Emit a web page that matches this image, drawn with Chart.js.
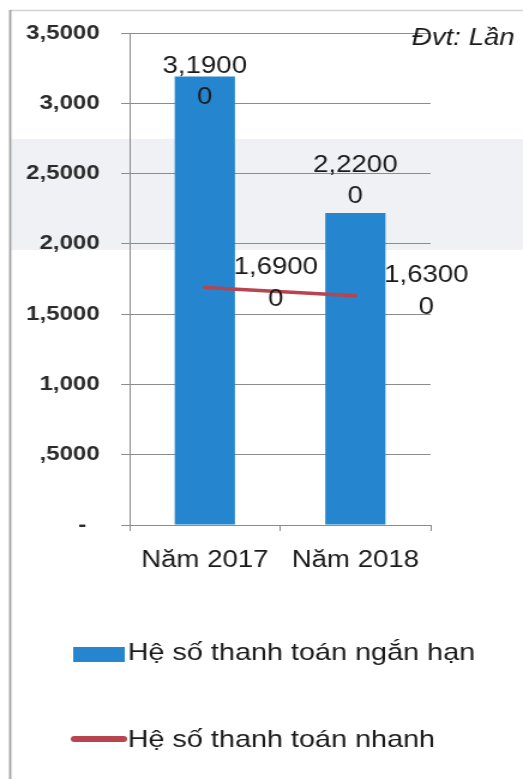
<!DOCTYPE html>
<html>
<head>
<meta charset="utf-8">
<script src="https://cdn.jsdelivr.net/npm/chart.js@4.4.1/dist/chart.umd.min.js"></script>
<style>
  html, body { margin: 0; padding: 0; background: #ffffff; overflow: hidden; }
  #wrap {
    position: absolute; left: 0; top: 0;
    width: 436px; height: 779px;
    transform: scaleX(1.1995);
    transform-origin: 0 0;
  }
</style>
</head>
<body>
<div id="wrap"><canvas id="c"></canvas></div>
<script>
// Chart data
const categories = ['Năm 2017', 'Năm 2018'];
const seriesNames = ['Hệ số thanh toán ngắn hạn', 'Hệ số thanh toán nhanh'];
const shortTermRatio = [3.19, 2.22];
const quickRatio = [1.69, 1.63];
const yTickLabels = ['-  ', ',5000', '1,000', '1,5000', '2,000', '2,5000', '3,000', '3,5000'];
const unitLabel = 'Đvt: Lần';

const TEXT = '#1a1a1a';
const GRID = '#8c8c8c';
const BAR_COLOR = '#2586cf';
const LINE_COLOR = '#b8444f';
const FONT = '"Liberation Sans", Arial, sans-serif';

// value label text like "3,1900" / "0"
function labelLines(v) {
  const s = v.toFixed(5).replace('.', ',');
  return [s.slice(0, 6), s.slice(6)];
}

const decorations = {
  id: 'decorations',
  beforeDraw(chart) {
    const { ctx, width, height } = chart;
    ctx.save();
    ctx.fillStyle = '#ffffff';
    ctx.fillRect(0, 0, width, height);
    // faint grey band behind the upper plot
    ctx.fillStyle = '#eff1f4';
    ctx.fillRect(8, 139, width, 111);
    // frame
    ctx.strokeStyle = '#d2d2d2';
    ctx.lineWidth = 1.5;
    ctx.beginPath();
    ctx.moveTo(8.5, 10.5);
    ctx.lineTo(width, 10.5);
    ctx.stroke();
    ctx.strokeStyle = '#a0a0a0';
    ctx.lineWidth = 1.8;
    ctx.beginPath();
    ctx.moveTo(8.5, 10);
    ctx.lineTo(8.5, height);
    ctx.stroke();
    ctx.restore();
  },
  afterDatasetsDraw(chart) {
    const { ctx, chartArea } = chart;
    ctx.save();
    ctx.fillStyle = TEXT;
    ctx.font = '23px ' + FONT;
    ctx.textAlign = 'center';
    ctx.textBaseline = 'middle';

    // bar value labels above each bar, kept inside the plot top
    const barMeta = chart.getDatasetMeta(0);
    barMeta.data.forEach((el, i) => {
      const lines = labelLines(chart.data.datasets[0].data[i]);
      let first = el.y - 47;
      const minFirst = chartArea.top + 34;
      if (first < minFirst) first = minFirst;
      ctx.fillText(lines[0], el.x, first);
      ctx.fillText(lines[1], el.x, first + 31);
    });

    // line value labels to the right of each point
    const lineMeta = chart.getDatasetMeta(1);
    lineMeta.data.forEach((el, i) => {
      const lines = labelLines(chart.data.datasets[1].data[i]);
      const w = ctx.measureText(lines[0]).width;
      const cx = el.x + 24 + w / 2;
      ctx.fillText(lines[0], cx, el.y - 20);
      ctx.fillText(lines[1], cx, el.y + 12);
    });

    // unit note at top right
    ctx.font = 'italic 23px ' + FONT;
    ctx.textAlign = 'right';
    ctx.textBaseline = 'alphabetic';
    ctx.fillText(unitLabel, 429, 45);
    ctx.restore();
  },
  afterDraw(chart) {
    // stacked legend below the axis
    const { ctx } = chart;
    const ds = chart.data.datasets;
    ctx.save();
    ctx.font = '24px ' + FONT;
    ctx.fillStyle = TEXT;
    ctx.textAlign = 'left';
    ctx.textBaseline = 'middle';

    ctx.fillStyle = ds[0].backgroundColor;
    ctx.fillRect(61, 647, 43, 15);
    ctx.fillStyle = TEXT;
    ctx.fillText(ds[0].label, 106.5, 653);

    ctx.strokeStyle = ds[1].borderColor;
    ctx.lineWidth = 6;
    ctx.lineCap = 'round';
    ctx.beginPath();
    ctx.moveTo(62, 739);
    ctx.lineTo(103, 739);
    ctx.stroke();
    ctx.fillText(ds[1].label, 106.5, 740);
    ctx.restore();
  }
};

new Chart(document.getElementById('c'), {
  data: {
    labels: categories,
    datasets: [
      {
        type: 'bar',
        label: seriesNames[0],
        data: shortTermRatio,
        backgroundColor: BAR_COLOR,
        borderWidth: 0,
        barPercentage: 0.4,
        categoryPercentage: 1.0,
        order: 1
      },
      {
        type: 'line',
        label: seriesNames[1],
        data: quickRatio,
        borderColor: LINE_COLOR,
        backgroundColor: LINE_COLOR,
        borderWidth: 3.5,
        borderCapStyle: 'round',
        pointRadius: 0,
        tension: 0,
        order: 0
      }
    ]
  },
  options: {
    responsive: true,
    maintainAspectRatio: false,
    animation: false,
    layout: { padding: { top: 33, right: 77, left: 0, bottom: 0 } },
    plugins: {
      legend: { display: false },
      tooltip: { enabled: false }
    },
    scales: {
      x: {
        offset: true,
        grid: { offset: true, drawOnChartArea: false, drawTicks: true, tickLength: 6, color: GRID },
        border: { color: GRID, width: 1 },
        ticks: { color: TEXT, font: { family: FONT, size: 23 }, padding: 16, maxRotation: 0 },
        afterFit(s) { s.height = 254; }
      },
      y: {
        min: 0,
        max: 3.5,
        grid: { color: GRID, tickLength: 7 },
        border: { color: GRID, width: 1 },
        ticks: {
          stepSize: 0.5,
          color: '#2b2b2b',
          font: { family: FONT, size: 20, weight: 'bold' },
          padding: 18,
          callback: (v, i) => yTickLabels[i]
        },
        afterFit(s) { s.width = 108; }
      }
    }
  },
  plugins: [decorations]
});
</script>
</body>
</html>
